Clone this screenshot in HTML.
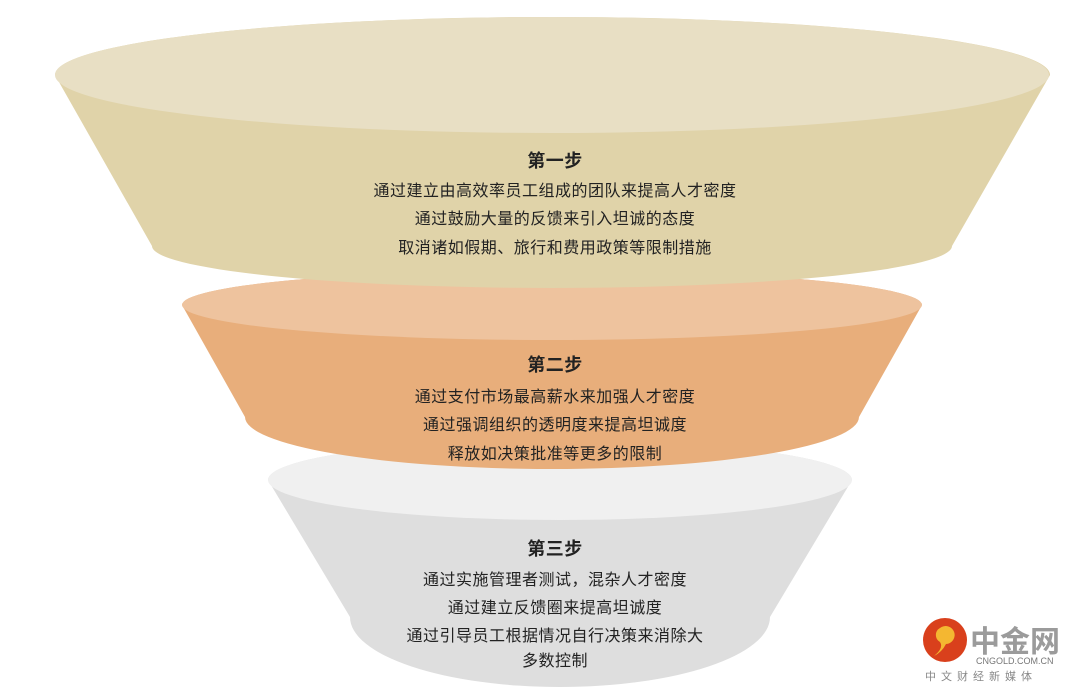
<!DOCTYPE html>
<html><head><meta charset="utf-8"><style>
body{margin:0;width:1080px;height:692px;background:#fff;overflow:hidden;position:relative;font-family:"Liberation Sans","Noto Sans CJK SC",sans-serif;}
svg{position:absolute;left:0;top:0}
.t{position:absolute;left:0;width:1110px;text-align:center;color:#222;font-size:16px;line-height:20px;letter-spacing:0.5px}
.h{font-weight:bold;font-size:18px}
</style></head><body>
<svg width="1080" height="692">
<!-- stage 3 -->
<path d="M268 480 L350 617 A210 70 0 0 0 770 617 L852 480 A292 40 0 0 0 268 480 Z" fill="#dedede"/>
<ellipse cx="560" cy="480" rx="292" ry="40" fill="#f0f0f0"/>
<!-- stage 2 -->
<path d="M182 305 L245 417 A307 52 0 0 0 859 417 L922 305 A370 35 0 0 0 182 305 Z" fill="#e8ae7b"/>
<ellipse cx="552" cy="305" rx="370" ry="35" fill="#eec39e"/>
<!-- stage 1 -->
<path d="M55 75 L152 246 A400 42 0 0 0 952 246 L1050 75 A497 58 0 0 0 55 75 Z" fill="#e0d3a9"/>
<ellipse cx="552" cy="75" rx="497" ry="58" fill="#e8dfc4"/>
<!-- logo -->
<circle cx="945" cy="640" r="22" fill="#d9401c"/>
<path d="M940 628 a9 9 0 1 1 6 16 q-4 8 -12 12 q10 -8 6 -14 a8 8 0 0 1 0 -14z" fill="#f4b731"/>
<text x="970" y="652" font-family="Noto Sans CJK SC,sans-serif" font-size="30" font-weight="bold" fill="#9b9b9b">中金网</text>
<text x="976" y="664" font-family="Liberation Sans,sans-serif" font-size="9" fill="#777">CNGOLD.COM.CN</text>
<text x="925" y="680" font-family="Noto Sans CJK SC,sans-serif" font-size="11" fill="#888" letter-spacing="5">中文财经新媒体</text>
</svg>
<div class="t h" style="top:151px">第一步</div>
<div class="t" style="top:182px">通过建立由高效率员工组成的团队来提高人才密度</div>
<div class="t" style="top:210px">通过鼓励大量的反馈来引入坦诚的态度</div>
<div class="t" style="top:239px">取消诸如假期、旅行和费用政策等限制措施</div>
<div class="t h" style="top:355px">第二步</div>
<div class="t" style="top:388px">通过支付市场最高薪水来加强人才密度</div>
<div class="t" style="top:416px">通过强调组织的透明度来提高坦诚度</div>
<div class="t" style="top:445px">释放如决策批准等更多的限制</div>
<div class="t h" style="top:539px">第三步</div>
<div class="t" style="top:571px">通过实施管理者测试，混杂人才密度</div>
<div class="t" style="top:599px">通过建立反馈圈来提高坦诚度</div>
<div class="t" style="top:627px">通过引导员工根据情况自行决策来消除大</div>
<div class="t" style="top:652px">多数控制</div>
</body></html>
